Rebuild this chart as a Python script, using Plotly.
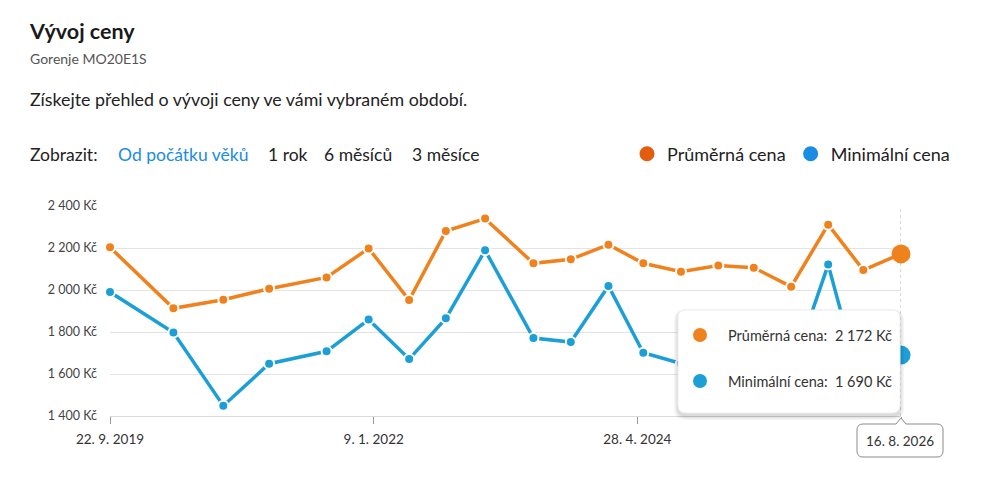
import plotly.graph_objects as go

# ---------------- data ----------------
dates = ["2019-09-22", "2020-04-11", "2020-09-17", "2021-02-10", "2021-08-12",
         "2021-12-24", "2022-05-02", "2022-08-27", "2022-12-30", "2023-06-02",
         "2023-09-29", "2024-01-27", "2024-05-17", "2024-09-14", "2025-01-11",
         "2025-05-04", "2025-08-31", "2025-12-27", "2026-04-18", "2026-08-16"]
avg_price = [2203, 1913, 1954, 2006, 2060, 2198, 1952, 2281, 2340, 2127,
             2146, 2216, 2127, 2087, 2117, 2106, 2016, 2311, 2095, 2172]
min_price = [1990, 1798, 1449, 1649, 1708, 1859, 1671, 1865, 2189, 1771,
             1752, 2019, 1701, 1650, 1640, 1660, 1606, 2121, 1502, 1690]
y_ticks = [1400, 1600, 1800, 2000, 2200, 2400]
y_tick_labels = ["1 400 Kč", "1 600 Kč", "1 800 Kč", "2 000 Kč", "2 200 Kč", "2 400 Kč"]
x_ticks = ["2019-09-22", "2022-01-09", "2024-04-28", "2026-08-16"]
x_tick_labels = ["22. 9. 2019", "9. 1. 2022", "28. 4. 2024", ""]
series_names = ["Průměrná cena", "Minimální cena"]
period_options = ["Od počátku věků", "1 rok", "6 měsíců", "3 měsíce"]

# ---------------- style ----------------
FONT = "Lato"
ORANGE = "#F0821E"
BLUE = "#1C9FD6"
LEG_ORANGE = "#E35D0E"
LEG_BLUE = "#1A8CE3"
TXT = "#222222"

PAGE_OFF = 8                      # default body margin of the page
W, H = 985 - 2 * PAGE_OFF, 494 - 2 * PAGE_OFF
# plot area in screen pixels
L, R, T, B = 110, 901, 206, 416


def px(x):
    return (x - L) / (R - L)


def py(y):
    return (B - y) / (B - T)


def fmt_price(v):
    return f"{v:,}".replace(",", " ") + " Kč"


def fmt_date(d):
    y, m, dd = d.split("-")
    return f"{int(dd)}. {int(m)}. {y}"


def rrect(x0, y0, x1, y1, r):
    rx = r / (R - L)
    ry = r / (B - T)
    a0, a1 = px(x0), px(x1)
    b0, b1 = py(y1), py(y0)
    return (f"M {a0+rx},{b0} L {a1-rx},{b0} Q {a1},{b0} {a1},{b0+ry} "
            f"L {a1},{b1-ry} Q {a1},{b1} {a1-rx},{b1} L {a0+rx},{b1} "
            f"Q {a0},{b1} {a0},{b1-ry} L {a0},{b0+ry} Q {a0},{b0} {a0+rx},{b0} Z")


fig = go.Figure()

fig.add_trace(go.Scatter(
    x=dates, y=min_price, mode="lines+markers", name=series_names[1],
    line=dict(color=BLUE, width=3.5),
    marker=dict(size=10, color=BLUE, line=dict(color="white", width=2)),
    cliponaxis=False, showlegend=False, hoverinfo="skip"))
fig.add_trace(go.Scatter(
    x=dates, y=avg_price, mode="lines+markers", name=series_names[0],
    line=dict(color=ORANGE, width=3.5),
    marker=dict(size=10, color=ORANGE, line=dict(color="white", width=2)),
    cliponaxis=False, showlegend=False, hoverinfo="skip"))
fig.add_trace(go.Scatter(
    x=[dates[-1]], y=[min_price[-1]], mode="markers",
    marker=dict(size=19, color=BLUE), cliponaxis=False,
    showlegend=False, hoverinfo="skip"))
fig.add_trace(go.Scatter(
    x=[dates[-1]], y=[avg_price[-1]], mode="markers",
    marker=dict(size=19, color=ORANGE), cliponaxis=False,
    showlegend=False, hoverinfo="skip"))
fig.add_trace(go.Scatter(x=[None], y=[None], mode="markers", name=series_names[0],
                         marker=dict(size=15, color=LEG_ORANGE)))
fig.add_trace(go.Scatter(x=[None], y=[None], mode="markers", name=series_names[1],
                         marker=dict(size=15, color=LEG_BLUE)))

shapes = []
shapes.append(dict(type="line", xref="x", yref="paper", x0=dates[-1], x1=dates[-1],
                   y0=0, y1=1, line=dict(color="#b0b0b0", width=1, dash="3px,3px"),
                   layer="below"))
for i in range(4):
    o = i + 1
    shapes.append(dict(type="path", xref="paper", yref="paper",
                       path=rrect(678 - o, 310 - o + 3, 900 + o, 413 + o + 3, 8 + o),
                       fillcolor="rgba(0,0,0,0.035)", line=dict(width=0), layer="above"))
shapes.append(dict(type="path", xref="paper", yref="paper",
                   path=rrect(678, 310, 900, 413, 8),
                   fillcolor="white", line=dict(color="#eeeeee", width=1), layer="above"))
for cy, col in [(335, ORANGE), (381, BLUE)]:
    shapes.append(dict(type="circle", xref="paper", yref="paper",
                       x0=px(693), x1=px(707), y0=py(cy + 7), y1=py(cy - 7),
                       fillcolor=col, line=dict(width=0), layer="above"))
bx0, bx1, by0, by1, rr = 857, 943, 424, 457, 6
rx, ry = rr / (R - L), rr / (B - T)
a0, a1, b0, b1 = px(bx0), px(bx1), py(by1), py(by0)
pl, pc, pr, ptop = px(896), px(901), px(906), py(418)
date_path = (f"M {a0+rx},{b0} L {a1-rx},{b0} Q {a1},{b0} {a1},{b0+ry} "
             f"L {a1},{b1-ry} Q {a1},{b1} {a1-rx},{b1} L {pr},{b1} L {pc},{ptop} L {pl},{b1} "
             f"L {a0+rx},{b1} Q {a0},{b1} {a0},{b1-ry} L {a0},{b0+ry} Q {a0},{b0} {a0+rx},{b0} Z")
shapes.append(dict(type="path", xref="paper", yref="paper", path=date_path,
                   fillcolor="white", line=dict(color="#8a8a8a", width=1), layer="above"))

ann = []


def text(x, y, s, size, color=TXT, anchor="left"):
    ann.append(dict(xref="paper", yref="paper", x=px(x), y=py(y), text=s,
                    showarrow=False, xanchor=anchor, yanchor="middle",
                    font=dict(family=FONT, size=size, color=color)))


text(27, 31, "<b>Vývoj ceny</b>", 21.5, "#1a1a1a")
text(28, 58, "Gorenje MO20E1S", 14, "#555555")
text(28, 99, "Získejte přehled o vývoji ceny ve vámi vybraném období.", 17.8, TXT)
text(28, 154, "Zobrazit:", 17.5, TXT)
for xpos, s, c in zip([116, 266, 322, 410], period_options,
                      [LEG_BLUE, TXT, TXT, TXT]):
    text(xpos, 154, s, 17.5, c)
text(726, 335, series_names[0] + ":", 14.5, "#333333")
text(833, 335, fmt_price(avg_price[-1]), 14.5, "#333333")
text(726, 381, series_names[1] + ":", 14.5, "#333333")
text(833, 381, fmt_price(min_price[-1]), 14.5, "#333333")
text(900, 441, fmt_date(dates[-1]), 13.5, "#333333", anchor="center")

fig.update_layout(
    width=W, height=H,
    margin=dict(l=L - PAGE_OFF, r=W - (R - PAGE_OFF), t=T - PAGE_OFF,
                b=H - (B - PAGE_OFF), pad=0),
    paper_bgcolor="white", plot_bgcolor="white",
    font=dict(family=FONT, color=TXT),
    shapes=shapes, annotations=ann,
    showlegend=True,
    legend=dict(orientation="h", x=px(955), xanchor="right", y=py(154), yanchor="middle",
                font=dict(family=FONT, size=18, color=TXT), itemwidth=30,
                bgcolor="rgba(0,0,0,0)", traceorder="normal"),
    hovermode=False,
)
fig.update_xaxes(
    type="date", range=[dates[0], dates[-1]],
    tickvals=x_ticks, ticktext=x_tick_labels,
    showgrid=False, zeroline=False,
    showline=True, linecolor="#d9d9d9", linewidth=1,
    ticks="outside", ticklen=7, tickcolor="#999999", tickwidth=1,
    tickfont=dict(family=FONT, size=13.5, color="#333333"),
    ticklabelstandoff=4,
)
fig.update_yaxes(
    range=[1400, 2400], tickvals=y_ticks, ticktext=y_tick_labels,
    showgrid=True, gridcolor="#e3e3e3", gridwidth=1, zeroline=False,
    showline=False, ticks="",
    tickfont=dict(family=FONT, size=12.5, color="#444444"),
    ticklabelstandoff=12,
)

fig.write_html("out.html")
